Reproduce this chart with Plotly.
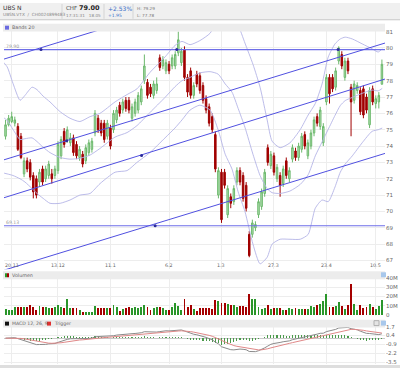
import plotly.graph_objects as go
import pandas as pd

# ---------------- data ----------------
opens = [74.6,75.3,75.5,75.4,75.2,74.6,72.3,73.1,73.0,72.2,72.0,71.8,72.6,72.0,72.2,72.3,72.2,72.5,73.4,74.9,
         74.4,74.2,74.5,74.1,73.3,73.5,73.1,73.6,73.8,74.8,75.7,75.4,75.4,74.6,75.1,75.0,75.6,76.5,76.2,76.8,
         76.8,75.7,76.0,76.2,76.7,78.0,77.9,77.6,77.1,77.4,79.4,78.9,78.6,79.0,78.9,78.9,79.7,79.1,79.9,78.2,
         78.6,77.1,78.4,78.3,77.7,76.9,76.4,75.8,74.7,71.0,72.4,72.4,69.8,70.9,70.6,71.8,72.5,72.2,71.6,68.6,
         68.6,69.0,69.8,70.3,71.1,73.9,72.8,73.4,72.0,72.2,71.7,73.1,72.0,73.2,73.7,73.3,73.8,74.7,73.4,74.0,
         74.8,75.8,75.2,74.2,76.7,78.2,78.2,77.6,79.2,79.6,78.2,79.2,77.6,76.8,77.4,77.4,77.5,77.0,75.3,77.5,
         76.6,76.7,77.78]
highs = [75.6,75.9,76.1,75.8,75.4,74.8,73.3,73.3,73.2,72.4,72.2,72.6,72.8,72.8,73.1,72.6,72.8,74.3,74.6,75.1,
         75.2,74.8,74.7,74.3,74.0,73.7,74.1,74.4,74.5,76.2,75.9,75.6,75.6,75.6,75.3,76.2,76.4,76.7,76.9,77.0,
         77.0,76.6,76.9,77.3,77.7,79.6,78.1,77.8,78.0,78.2,79.6,79.5,79.3,79.2,79.6,79.8,81.0,80.0,80.1,78.4,
         78.8,77.9,78.6,78.5,77.9,77.1,76.6,76.0,74.9,72.7,72.6,72.6,71.6,71.1,71.6,72.7,72.7,72.4,71.8,68.8,
         69.5,69.4,70.8,71.4,72.6,74.1,73.7,73.6,72.9,72.4,72.8,73.3,72.7,74.1,73.9,74.2,74.8,74.9,74.4,75.0,
         75.8,76.0,76.4,75.4,78.4,78.4,78.4,78.8,80.1,79.8,79.4,79.4,77.8,78.0,77.9,77.6,77.7,77.2,77.6,77.7,
         77.1,77.3,79.29]
lows = [74.4,75.2,75.4,75.2,73.7,73.2,72.1,72.4,71.9,70.8,70.8,71.5,71.6,71.8,72.0,71.7,72.0,72.3,73.2,73.9,
        74.2,74.0,73.4,73.2,73.1,72.7,72.9,73.4,73.6,74.6,74.8,74.6,74.2,74.4,73.8,74.8,75.4,75.8,76.0,76.1,
        76.0,75.5,75.8,76.0,76.5,77.8,76.9,77.0,76.9,77.2,78.6,78.7,78.4,78.4,78.7,78.7,79.5,78.9,78.0,77.0,
        76.9,76.9,77.6,77.2,76.6,76.0,75.2,74.8,72.4,70.8,69.3,71.4,69.6,70.2,70.4,71.6,71.6,70.6,70.0,67.2,
        68.4,68.8,69.6,70.1,70.9,72.8,72.6,72.2,71.8,70.9,71.5,72.0,71.8,73.0,73.1,73.1,73.6,73.8,73.2,73.8,
        74.6,75.2,75.0,74.0,76.5,76.6,77.3,77.4,79.0,78.7,78.0,78.4,74.6,76.6,77.2,75.9,75.7,76.0,75.1,76.5,
        76.3,76.3,77.78]
closes = [75.3,75.7,75.8,75.6,73.8,73.3,73.1,72.6,72.1,71.2,71.0,72.4,71.8,72.6,72.9,72.0,72.6,74.1,74.4,74.1,
          75.0,74.5,73.6,73.4,73.8,72.9,73.9,74.2,74.3,76.0,75.0,74.8,74.4,75.4,74.0,76.0,76.2,76.0,76.7,76.3,
          76.2,76.4,76.7,77.1,77.5,78.9,77.1,77.2,77.8,77.8,78.8,79.3,79.1,78.6,79.4,79.6,80.5,79.8,78.2,77.3,
          77.1,77.7,77.8,77.4,76.8,76.2,75.4,75.0,72.6,72.5,69.5,71.6,71.4,70.5,71.4,72.5,71.8,70.8,70.2,67.3,
          69.3,69.2,70.6,71.2,72.4,73.0,73.5,72.4,72.7,71.6,72.6,72.2,72.5,73.9,73.3,74.0,74.6,74.0,74.2,74.8,
          75.6,75.4,76.2,75.2,78.2,77.2,77.5,78.6,80.0,78.9,79.2,78.6,76.7,77.8,77.7,76.1,75.9,76.2,77.4,76.7,
          76.9,77.1,79.00]
volumes_m = [6.3,5.6,5.2,8.1,8.9,8.9,8.1,8.9,10.7,8.1,5.6,9.3,8.1,8.1,7.8,7.4,8.1,11.1,8.1,7.8,
             17.0,7.0,7.8,7.8,5.2,3.0,3.0,3.0,3.3,10.0,7.0,7.0,7.0,7.0,7.4,10.4,8.1,4.4,6.7,7.4,
             8.1,7.8,8.1,7.0,8.1,10.7,8.1,5.2,7.4,8.5,8.9,7.0,5.2,5.2,8.1,13.0,10.0,5.6,17.4,8.1,
             10.7,6.7,3.7,7.4,7.4,7.0,7.0,6.3,16.7,14.8,12.6,12.6,12.2,11.1,10.7,8.9,9.3,9.3,8.9,22.2,
             17.0,17.4,8.1,5.9,7.8,11.1,5.9,7.8,7.8,7.4,5.2,5.2,7.0,6.7,7.0,5.9,5.9,6.3,6.7,9.3,
             8.1,11.1,12.2,15.6,22.2,8.1,8.1,9.3,13.7,9.6,5.9,10.7,34.1,11.9,5.6,11.1,7.4,8.1,11.9,8.1,
             6.3,9.3,16.3]

# x-axis date labels and the candle index they sit on
date_labels = ["20.11", "13.12", "11.1", "6.2", "1.3", "27.3", "23.4", "10.5"]
date_label_idx = [2, 17, 34, 53, 70, 87, 104, 120]

# Bollinger band (20) read at sample candle positions
band_idx = [-1.8,0.5,2.4,4.7,6.3,8.6,10.2,12.2,14.4,17.7,20.9,24.1,27.4,30.6,35.5,39.4,42.6,46.8,51.7,54.9,
            57.2,59.8,63.0,66.3,68.9,71.2,73.4,75.4,77.6,80.2,82.5,84.8,86.4,89.0,92.2,95.5,98.1,100.4,102.6,104.6,
            106.8,108.5,110.1,112.4,115.6,118.8,120.8,122.1]
band_upper = [79.35,78.85,77.84,76.8,77.1,77.6,77.45,77.05,76.7,76.1,75.7,75.5,75.8,76.0,76.7,77.15,77.5,78.5,79.45,80.15,
              80.4,80.2,80.45,80.9,81.8,82.1,82.0,81.4,80.3,79.0,77.6,75.6,74.3,73.9,74.2,75.0,75.9,76.6,77.8,79.45,
              80.25,80.55,80.66,80.55,80.25,79.95,79.75,79.95]
band_lower = [72.4,72.3,72.2,72.0,71.8,71.4,71.1,70.8,70.5,70.5,70.7,71.0,71.1,71.7,72.4,72.5,73.0,73.6,74.5,75.1,
              75.6,76.2,76.5,76.2,75.0,73.5,72.6,71.2,70.0,68.0,66.8,67.2,68.0,68.3,68.3,68.3,68.6,70.2,70.7,70.6,
              71.5,72.4,72.9,73.4,74.2,74.9,75.0,75.1]

# drawn trend lines: (start idx, start price, end idx, end price)
trend_lines = [(-0.5, 79.32, 40, 81.66),
               (-0.5, 73.16, 123, 80.30),
               (-0.5, 70.84, 123, 78.10),
               (-0.5, 66.41, 123, 73.55)]
level_lines = [79.90, 69.13]
level_labels = ["79.90", "69.13"]
anchor_idx = [11.5, 55.5, 107.8, 19.8, 44.1, 48.5]
anchor_price = [79.90, 79.90, 79.90, 74.33, 73.43, 69.13]

# ---------------- figure ----------------
W, H = 400, 370
def px(x): return x / W
def py(y): return 1 - y / H

n = len(closes)
idx = list(range(n))
fig = go.Figure()

GRID = "#ededed"
BAND = "#b4b4e6"
TL = "#5050e0"

# bands
mid = [(u + l) / 2 for u, l in zip(band_upper, band_lower)]
for arr in (band_upper, mid, band_lower):
    fig.add_trace(go.Scatter(x=band_idx, y=arr, mode="lines", line=dict(color=BAND, width=0.9, shape="spline", smoothing=0.6),
                             xaxis="x", yaxis="y", hoverinfo="skip"))
# level lines
for lv in level_lines:
    fig.add_trace(go.Scatter(x=[-0.5, 123], y=[lv, lv], mode="lines", line=dict(color="#6e6ee8", width=1.1),
                             xaxis="x", yaxis="y", hoverinfo="skip"))
# trend lines
for (x0, y0, x1, y1) in trend_lines:
    fig.add_trace(go.Scatter(x=[x0, x1], y=[y0, y1], mode="lines", line=dict(color=TL, width=1),
                             xaxis="x", yaxis="y", hoverinfo="skip"))
fig.add_trace(go.Scatter(x=anchor_idx, y=anchor_price, mode="markers", marker=dict(color="#2a2a9a", size=3),
                         xaxis="x", yaxis="y", hoverinfo="skip"))

# candles
fig.add_trace(go.Candlestick(x=idx, open=opens, high=highs, low=lows, close=closes,
                             increasing=dict(line=dict(color="#6cb86c", width=1), fillcolor="#b4e2b4"),
                             decreasing=dict(line=dict(color="#a00000", width=1), fillcolor="#a00000"),
                             whiskerwidth=0, xaxis="x", yaxis="y", hoverinfo="skip"))

# volume
vcol = ["#2a962a" if c >= o else "#a50000" for o, c in zip(opens, closes)]
fig.add_trace(go.Bar(x=idx, y=volumes_m, marker=dict(color=vcol, line=dict(width=0)), width=0.62,
                     xaxis="x2", yaxis="y2", hoverinfo="skip"))

# MACD 12,26,9
cs = pd.Series(closes)
macd = cs.ewm(span=12, adjust=False).mean() - cs.ewm(span=26, adjust=False).mean()
trig = macd.ewm(span=9, adjust=False).mean()
hist = macd - trig
fig.add_trace(go.Bar(x=idx, y=list(hist), marker=dict(color="#4a9a4a", line=dict(width=0)), width=0.35,
                     xaxis="x3", yaxis="y3", hoverinfo="skip"))
fig.add_trace(go.Scatter(x=idx, y=list(macd), mode="lines", line=dict(color="#8a8a8a", width=1),
                         xaxis="x3", yaxis="y3", hoverinfo="skip"))
fig.add_trace(go.Scatter(x=idx, y=list(trig), mode="lines", line=dict(color="#e08888", width=1),
                         xaxis="x3", yaxis="y3", hoverinfo="skip"))

FONT = "DejaVu Sans"
tickf = dict(family=FONT, size=5.5, color="#666")
xdom = [px(4), px(385)]
xr = [-0.5, 123]

fig.update_layout(
    width=W, height=H, margin=dict(l=0, r=0, t=0, b=0),
    paper_bgcolor="white", plot_bgcolor="white", showlegend=False,
    font=dict(family=FONT, size=6, color="#444"), bargap=0,
    xaxis=dict(domain=xdom, range=xr, anchor="y", tickvals=date_label_idx, showticklabels=False,
               showgrid=True, gridcolor=GRID, gridwidth=1,
               zeroline=False, showline=False, ticks="", rangeslider=dict(visible=False)),
    yaxis=dict(domain=[py(270), py(28)], range=[66.46, 81.06], anchor="x", side="right",
               tickvals=list(range(67, 82)), tickfont=tickf, showgrid=True, gridcolor=GRID,
               zeroline=False, showline=False, ticks=""),
    xaxis2=dict(domain=xdom, range=xr, anchor="y2", matches="x", tickvals=date_label_idx, showticklabels=False,
                showgrid=True, gridcolor=GRID, zeroline=False, showline=False, ticks=""),
    yaxis2=dict(domain=[py(317), py(279)], range=[-1, 40], anchor="x2", side="right",
                tickvals=[0, 10, 20, 30, 40], ticktext=["0", "10M", "20M", "30M", "40M"], tickfont=tickf,
                showgrid=True, gridcolor=GRID, zeroline=False, showline=False, ticks=""),
    xaxis3=dict(domain=xdom, range=xr, anchor="y3", matches="x", tickvals=date_label_idx, showticklabels=False,
                showgrid=True, gridcolor=GRID, zeroline=False, showline=False, ticks=""),
    yaxis3=dict(domain=[py(366), py(326)], range=[-3.79, 1.99], anchor="x3", side="right",
                tickvals=[1.7, 0.4, -0.9, -2.2, -3.5], ticktext=["1.7", "0.4", "-0.9", "-2.2", "-3.5"],
                tickfont=tickf, showgrid=True, gridcolor=GRID, zeroline=True, zerolinecolor="#c8c8c8",
                zerolinewidth=1, showline=False, ticks=""),
)

shapes = []
def rect(x0, y0, x1, y1, fill, line=None):
    shapes.append(dict(type="rect", xref="paper", yref="paper", x0=px(x0), x1=px(x1), y0=py(y1), y1=py(y0),
                       fillcolor=fill, line=dict(width=0 if line is None else 1, color=line or fill), layer="above"))
def vline(x, y0, y1, color):
    shapes.append(dict(type="line", xref="paper", yref="paper", x0=px(x), x1=px(x), y0=py(y0), y1=py(y1),
                       line=dict(color=color, width=1)))

# header
rect(0, 0, 400, 17, "#f0f0f0")
shapes.append(dict(type="line", xref="paper", yref="paper", x0=0, x1=1, y0=py(17), y1=py(17),
                   line=dict(color="#c8c8c8", width=1)))
for xs in (62, 104, 133):
    vline(xs, 1, 16, "#d4d4d4")
# panel title bars
rect(3, 21, 385, 29, "#ececec")
rect(3, 272, 385, 280, "#ececec")
rect(3, 321, 385, 329, "#ececec")
rect(0, 367, 400, 370, "#dedede")
# legend squares
rect(5, 23, 9, 27, "#6a6ae0")
rect(5, 274, 7, 278, "#2a962a")
rect(7, 274, 9, 278, "#a50000")
rect(5, 323, 9, 327, "#111111")
rect(47, 323, 51, 327, "#e03030")
# small panel icons
rect(381, 273, 386, 278, "#a8c8ec")
rect(374, 322, 379, 327, "#e4e4e4", "#b0b0b0")
rect(381, 322, 386, 327, "#a8c8ec")

ann = []
def text(x, y, s, size=6, color="#555", bold=False, xanchor="left", xref="paper"):
    ann.append(dict(xref=xref, yref="paper", x=(px(x) if xref == "paper" else x), y=py(y),
                    text=("<b>%s</b>" % s) if bold else s,
                    showarrow=False, xanchor=xanchor, yanchor="middle",
                    font=dict(family=FONT, size=size, color=color)))

text(1, 5, "UBS N", 6, "#333")
text(1, 12, "UBSN.VTX  /  CH0024899483", 4.3, "#888")
text(64, 5.5, "CHF", 5.5, "#444")
text(77, 5.5, "79.00", 6.5, "#222", bold=True)
text(64, 12.5, "17:31:31   18.05", 4.2, "#888")
text(106, 5.5, "+2.53%", 6, "#3a6fc8")
text(106, 12.5, "+1.95", 4.5, "#3a6fc8")
text(135, 5.5, "H: 79.29", 4.2, "#777")
text(135, 12.5, "L: 77.78", 4.2, "#777")
text(10, 25, "Bands 20", 4.8, "#666")
text(10, 276, "Volumen", 4.8, "#666")
text(10, 325, "MACD 12, 26, 9", 4.6, "#666")
text(52, 325, "Trigger", 4.6, "#666")
for lv, lb in zip(level_lines, level_labels):
    ann.append(dict(xref="paper", yref="y", x=px(4), y=lv, text=lb, showarrow=False, xanchor="left",
                    yanchor="bottom", yshift=-1, font=dict(family=FONT, size=4.6, color="#999")))
for di, dl in zip(date_label_idx, date_labels):
    ann.append(dict(xref="x", yref="paper", x=di, y=py(266), text=dl, showarrow=False, xanchor="center",
                    yanchor="middle", font=dict(family=FONT, size=4.8, color="#666")))

fig.update_layout(shapes=shapes, annotations=ann)
fig.write_html("out.html", config={"displayModeBar": False, "staticPlot": True},
               post_script="document.body.style.margin='0px';document.body.style.padding='0px';")
